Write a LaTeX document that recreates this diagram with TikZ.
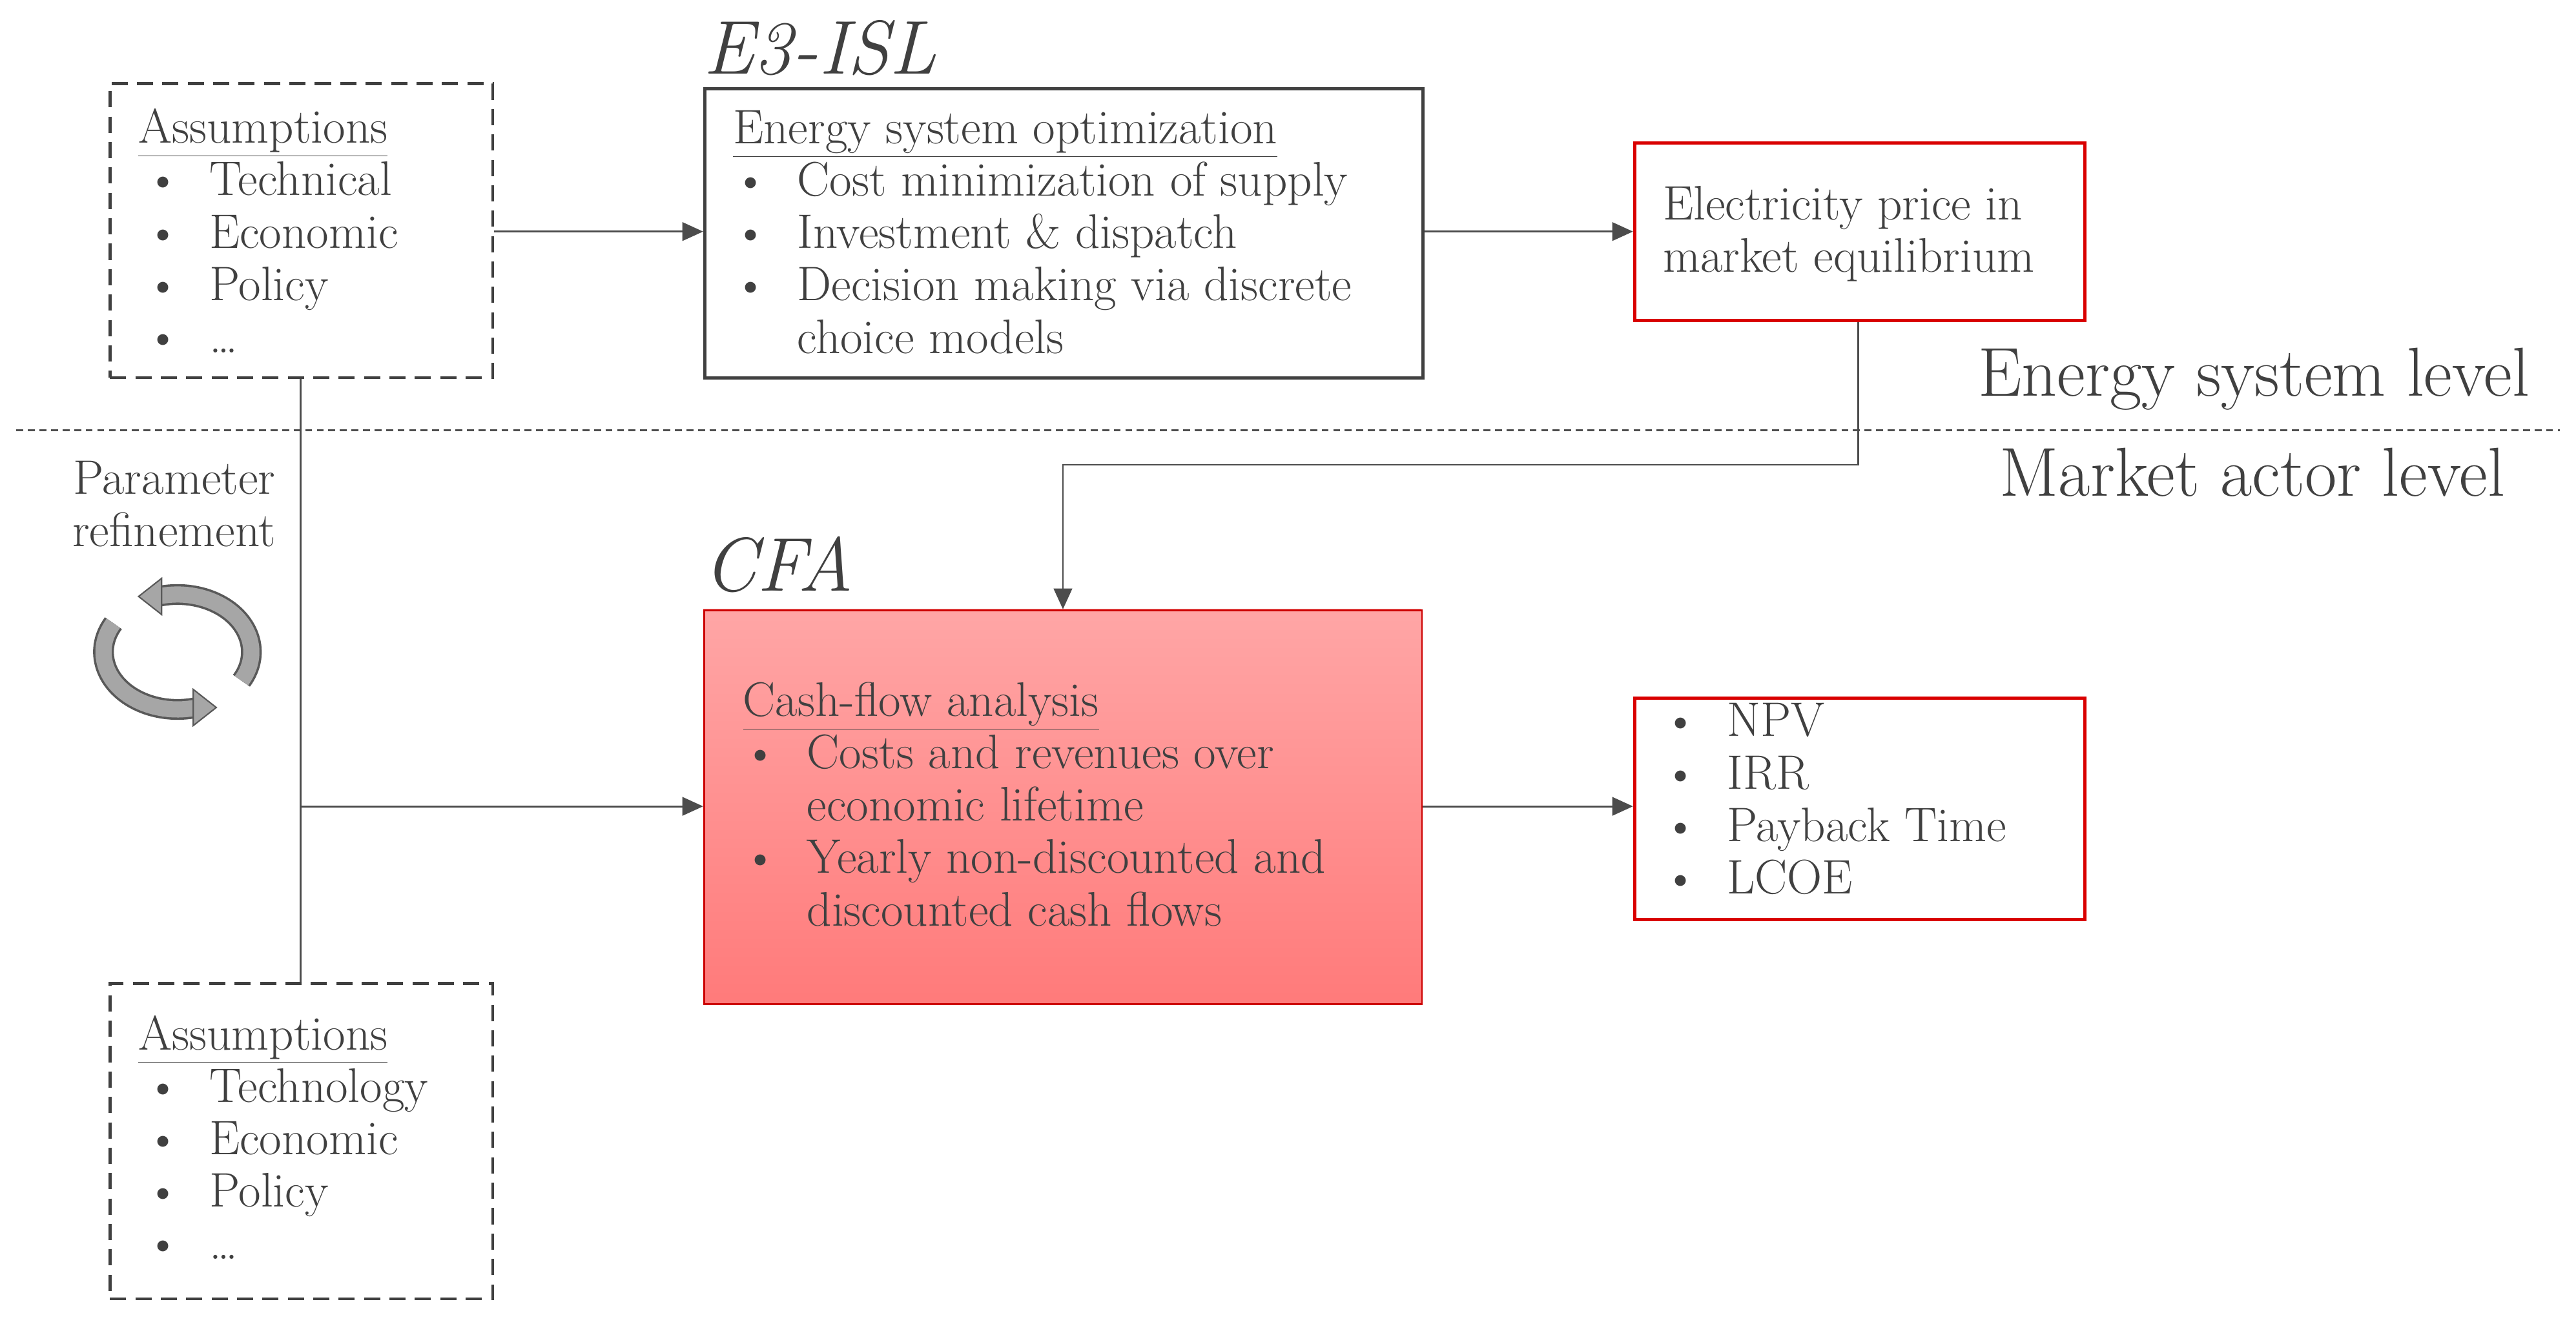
\documentclass[tikz,border=0pt]{standalone}
\usetikzlibrary{arrows.meta}
\begin{document}
\begin{tikzpicture}[x=0.025cm,y=-0.025cm,
  every node/.style={text=black!75,font=\fontsize{21}{22.7}\selectfont},
  dbox/.style={draw=black!75,dashed,line width=1.3pt,dash pattern=on 7pt off 4pt},
  rbox/.style={draw=red!85!black,line width=1.5pt},
  ln/.style={draw=black!70,line width=0.8pt},
  arr/.style={ln,-{Triangle[length=9pt,width=8pt]}},
  txt/.style={anchor=north west,inner sep=0pt,align=left}]
\useasboundingbox (0,0) rectangle (1568,806);
% boxes
\node[dbox,minimum width=233*0.025cm,minimum height=179*0.025cm,anchor=north west] (a1) at (66,50) {};
\node[draw=black!75,line width=1.5pt,minimum width=437*0.025cm,minimum height=176*0.025cm,anchor=north west] (e3) at (428,53) {};
\node[rbox,minimum width=274*0.025cm,minimum height=108*0.025cm,anchor=north west] (ep) at (994,86) {};
\shade[top color=red!35!white,bottom color=red!52!white] (428,371) rectangle (865,611);
\node[draw=red!80!black,line width=0.8pt,minimum width=437*0.025cm,minimum height=240*0.025cm,anchor=north west] (cfa) at (428,371) {};
\node[rbox,minimum width=274*0.025cm,minimum height=135*0.025cm,anchor=north west] (res) at (994,424) {};
\node[dbox,minimum width=233*0.025cm,minimum height=192*0.025cm,anchor=north west] (a2) at (66,598) {};
% texts
\newcommand\bl{\textbullet\hspace{0.6em}}
\node[txt] (ta1) at (84,66) {\underline{Assumptions}\\\hspace{3pt}\bl Technical\\\hspace{3pt}\bl Economic\\\hspace{3pt}\bl Policy\\\hspace{3pt}\bl \ldots};
\node[txt] (te3) at (446,67) {\underline{Energy system optimization}\\\bl Cost minimization of supply\\\bl Investment \& dispatch\\\bl Decision making via discrete\\\phantom{\bl}choice models};
\node[txt] (tep) at (1012,113) {Electricity price in\\market equilibrium};
\node[txt] (tcfa) at (452,415) {\underline{Cash-flow analysis}\\\bl Costs and revenues over\\\phantom{\bl}economic lifetime\\\bl Yearly non-discounted and\\\phantom{\bl}discounted cash flows};
\node[txt] (tres) at (1012,428) {\bl NPV\\\bl IRR\\\bl Payback Time\\\bl LCOE};
\node[txt] (ta2) at (84,618) {\underline{Assumptions}\\\hspace{3pt}\bl Technology\\\hspace{3pt}\bl Economic\\\hspace{3pt}\bl Policy\\\hspace{3pt}\bl \ldots};
% titles
\node[anchor=base west,inner sep=0pt,font=\fontsize{33}{36}\selectfont\itshape] (t1) at (428,45) {E3-ISL};
\node[anchor=base west,inner sep=0pt,font=\fontsize{33}{36}\selectfont\itshape] (t2) at (428,360) {CFA};
\node[anchor=base east,inner sep=0pt,font=\fontsize{30}{34}\selectfont] (l1) at (1540,241) {Energy system level};
\node[anchor=base east,inner sep=0pt,font=\fontsize{30}{34}\selectfont] (l2) at (1525,302) {Market actor level};
\node[align=center,font=\fontsize{21}{22.7}\selectfont] (pr) at (106,307) {Parameter\\refinement};
% dashed separator
\coordinate (s1) at (10,262); \coordinate (s2) at (1558,262);
\draw[black!70,line width=0.6pt,dash pattern=on 3pt off 2pt] (s1) -- (s2);
% connectors
\draw[arr] (a1.east |- 0,141) -- (e3.west |- 0,141);
\draw[arr] (e3.east |- 0,141) -- (ep.west |- 0,141);
\coordinate (c1) at (1131,283); \coordinate (c2) at (647,283);
\draw[arr] (ep.south -| c1) -- (c1) -- (c2) -- (cfa.north -| c2);
\coordinate (j) at (183,491);
\draw[ln] (a1.south -| j) -- (a2.north -| j);
\draw[arr] (j) -- (cfa.west |- j);
\draw[arr] (cfa.east |- 0,491) -- (res.west |- 0,491);
% cycle icon
\coordinate (cy) at (108,397);
\begin{scope}[shift={(cy)},yscale=-1]
\draw[black!65,line width=9pt] (150:45 and 35) arc (150:285:45 and 35);
\draw[black!35,line width=7pt] (150:45 and 35) arc (150:285:45 and 35);
\fill[black!35,draw=black!65,line width=0.6pt] (285:45 and 35) ++(-2,-11) -- ++(14,11) -- ++(-14,11) -- cycle;
\draw[black!65,line width=9pt] (330:45 and 35) arc (330:465:45 and 35);
\draw[black!35,line width=7pt] (330:45 and 35) arc (330:465:45 and 35);
\fill[black!35,draw=black!65,line width=0.6pt] (105:45 and 35) ++(2,-11) -- ++(-14,11) -- ++(14,11) -- cycle;
\end{scope}
\end{tikzpicture}
\end{document}
